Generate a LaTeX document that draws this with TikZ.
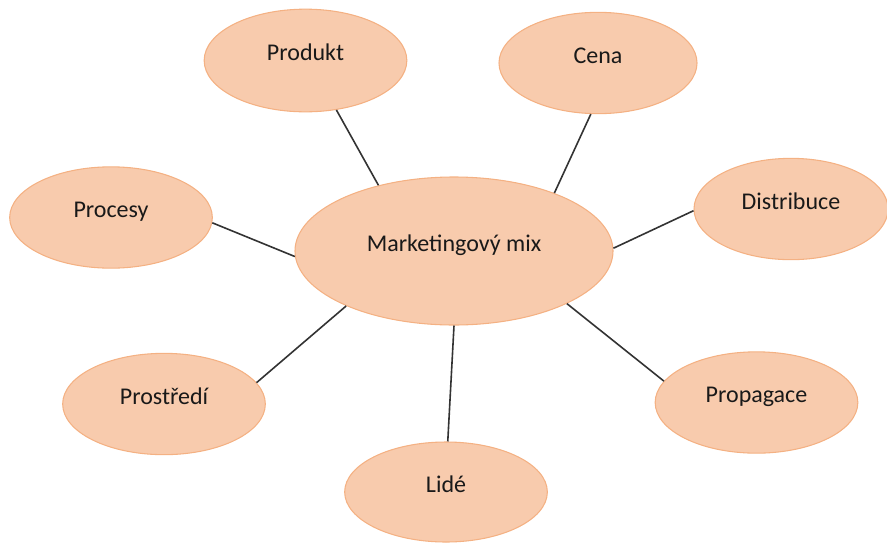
\documentclass[tikz,border=0pt]{standalone}
\usepackage{fontspec}
\setmainfont{Carlito}
\usepackage{xcolor}
\usepackage{tikz}
\usetikzlibrary{shapes.geometric}

\definecolor{peach}{HTML}{F8CBAD}
\definecolor{peachline}{HTML}{F4B183}

\begin{document}
\begin{tikzpicture}[
    x=0.75pt, y=-0.75pt,
    bubble/.style={ellipse, draw=peachline, line width=0.8pt, fill=peach, inner sep=0pt,
        minimum width=152pt, minimum height=76pt, text height=12pt, text depth=12pt,
        font=\fontsize{18}{22}\selectfont, text=black!90},
    link/.style={line width=1.2pt, draw=black!80}
]
\useasboundingbox (0,0) rectangle (887,543);

% Centre
\node[bubble, minimum width=238.5pt, minimum height=111pt] (mix) at (454,251) {Marketingový mix};

% The seven parts around it
\node[bubble, minimum height=77pt] (prod) at (305.5,60.5) {Produkt};
\node[bubble, minimum width=148.5pt] (cena) at (598,63) {Cena};
\node[bubble] (proc) at (111,217.5) {Procesy};
\node[bubble, minimum width=145.5pt] (dist) at (791,209) {Distribuce};
\node[bubble] (pros) at (164,404) {Prostředí};
\node[bubble] (prop) at (756.5,402.5) {Propagace};
\node[bubble, minimum height=75pt] (lide) at (446,492) {Lidé};

% Spokes
\draw[link] (prod.-58) -- (mix.139.5);
\draw[link] (cena.-98.7) -- (mix.30.8);
\draw[link] (proc.-3.6) -- (mix.182.2);
\draw[link] (dist.181.2) -- (mix.1.1);
\draw[link] (pros.13.2) -- (mix.207.6);
\draw[link] (prop.167.8) -- (mix.-25.9);
\draw[link] (lide.88.9) -- (mix.-90.8);
\end{tikzpicture}
\end{document}
